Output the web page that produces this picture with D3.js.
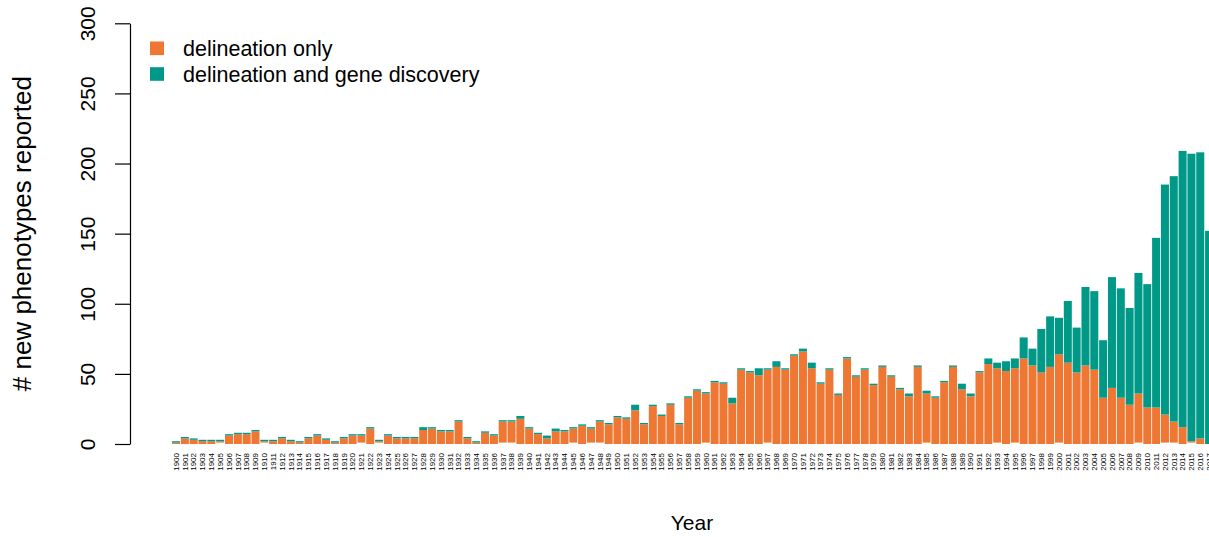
<!DOCTYPE html>
<html>
<head>
<meta charset="utf-8">
<script src="https://cdn.jsdelivr.net/npm/d3@7"></script>
<style>
  html, body { margin: 0; padding: 0; background: #ffffff; }
  svg { display: block; }
  text { font-family: "Liberation Sans", Arial, Helvetica, sans-serif; fill: #000; }
</style>
</head>
<body>
<svg id="chart" width="1209" height="537"></svg>
<script>
// Years on the x axis
const years = [
  1900, 1901, 1902, 1903, 1904, 1905, 1906, 1907, 1908, 1909,
  1910, 1911, 1912, 1913, 1914, 1915, 1916, 1917, 1918, 1919,
  1920, 1921, 1922, 1923, 1924, 1925, 1926, 1927, 1928, 1929,
  1930, 1931, 1932, 1933, 1934, 1935, 1936, 1937, 1938, 1939,
  1940, 1941, 1942, 1943, 1944, 1945, 1946, 1947, 1948, 1949,
  1950, 1951, 1952, 1953, 1954, 1955, 1956, 1957, 1958, 1959,
  1960, 1961, 1962, 1963, 1964, 1965, 1966, 1967, 1968, 1969,
  1970, 1971, 1972, 1973, 1974, 1975, 1976, 1977, 1978, 1979,
  1980, 1981, 1982, 1983, 1984, 1985, 1986, 1987, 1988, 1989,
  1990, 1991, 1992, 1993, 1994, 1995, 1996, 1997, 1998, 1999,
  2000, 2001, 2002, 2003, 2004, 2005, 2006, 2007, 2008, 2009,
  2010, 2011, 2012, 2013, 2014, 2015, 2016, 2017
];

// Phenotypes without an assigned category (drawn in white at the bar base)
const unassigned = [
  0, 0, 0, 0, 0, 1, 0, 0, 0, 0,
  1, 0, 0, 0, 0, 0, 0, 0, 0, 0,
  0, 1, 0, 1, 0, 0, 0, 0, 0, 0,
  0, 0, 0, 0, 0, 0, 0, 1, 1, 0,
  0, 0, 0, 0, 0, 1, 0, 1, 1, 0,
  0, 0, 0, 0, 0, 0, 0, 0, 0, 0,
  1, 0, 0, 0, 0, 0, 0, 1, 0, 0,
  0, 0, 0, 0, 0, 0, 0, 0, 0, 0,
  0, 0, 0, 0, 0, 1, 0, 0, 0, 0,
  0, 0, 0, 1, 0, 1, 0, 0, 0, 0,
  1, 0, 0, 0, 0, 0, 0, 0, 0, 1,
  0, 0, 1, 1, 0, 1, 0, 0
];

// delineation only
const delineationOnly = [
  1, 4, 3, 2, 2, 1, 6, 7, 7, 9,
  1, 2, 4, 2, 1, 4, 6, 3, 1, 4,
  6, 5, 11, 1, 6, 4, 4, 4, 10, 11,
  9, 9, 16, 4, 1, 8, 6, 15, 15, 18,
  11, 7, 4, 9, 9, 10, 13, 10, 15, 14,
  19, 18, 24, 14, 27, 20, 28, 14, 33, 38,
  35, 44, 43, 29, 53, 51, 49, 52, 55, 53,
  63, 66, 54, 43, 53, 35, 61, 48, 53, 42,
  55, 48, 39, 34, 55, 35, 33, 44, 55, 39,
  34, 51, 57, 53, 52, 53, 61, 56, 51, 55,
  63, 58, 51, 56, 53, 33, 40, 33, 28, 35,
  26, 26, 20, 15, 12, 1, 4, 0
];

// delineation and gene discovery
const withGeneDiscovery = [
  1, 1, 1, 1, 1, 1, 1, 1, 1, 1,
  1, 1, 1, 1, 1, 1, 1, 1, 1, 1,
  1, 1, 1, 1, 1, 1, 1, 1, 2, 1,
  1, 1, 1, 1, 1, 1, 1, 1, 1, 2,
  1, 1, 2, 2, 1, 1, 1, 1, 1, 1,
  1, 1, 4, 1, 1, 1, 1, 1, 1, 1,
  1, 1, 1, 4, 1, 1, 5, 1, 4, 1,
  1, 2, 4, 1, 1, 1, 1, 1, 1, 1,
  1, 1, 1, 2, 1, 2, 1, 1, 1, 4,
  2, 1, 4, 4, 7, 7, 15, 12, 31, 36,
  26, 44, 32, 56, 56, 41, 79, 78, 69, 86,
  88, 121, 164, 175, 197, 205, 204, 152
];

const yTicks = [0, 50, 100, 150, 200, 250, 300];
const seriesKeys = ["unassigned", "delineationOnly", "withGeneDiscovery"];
const seriesColors = ["#ffffff", "#EE7733", "#009988"];
const legendLabels = ["delineation only", "delineation and gene discovery"];
const legendColors = ["#EE7733", "#009988"];

const rows = years.map((y, i) => ({
  year: y,
  unassigned: unassigned[i],
  delineationOnly: delineationOnly[i],
  withGeneDiscovery: withGeneDiscovery[i]
}));

const svg = d3.select("#chart");
svg.append("rect").attr("width", 1209).attr("height", 537).attr("fill", "#ffffff");

const plotTop = 23.3, plotBottom = 444;
const axisX = 130;

const x = d3.scaleBand()
  .domain(years)
  .range([172, 1213.1])
  .paddingInner(0.0909)
  .paddingOuter(0);

const y = d3.scaleLinear().domain([0, 300]).range([plotBottom, plotTop]);

// Stacked bars
const stacked = d3.stack().keys(seriesKeys)(rows);
svg.append("g")
  .selectAll("g")
  .data(stacked)
  .join("g")
  .attr("fill", (d, i) => seriesColors[i])
  .selectAll("rect")
  .data(d => d)
  .join("rect")
  .attr("x", d => x(d.data.year))
  .attr("width", x.bandwidth())
  .attr("y", d => y(d[1]))
  .attr("height", d => y(d[0]) - y(d[1]));

// Y axis
const yAxis = d3.axisLeft(y).tickValues(yTicks).tickSize(15).tickSizeOuter(0).tickPadding(0);
const gy = svg.append("g").attr("transform", `translate(${axisX},0)`).call(yAxis);
gy.select(".domain").attr("stroke", "#000").attr("stroke-width", 1.2);
gy.selectAll(".tick line").attr("stroke", "#000").attr("stroke-width", 1.2);
gy.selectAll(".tick text")
  .attr("x", null).attr("dy", null)
  .attr("transform", "translate(-35,0) rotate(-90)")
  .attr("text-anchor", "middle")
  .attr("font-size", 21)
  .attr("font-family", "Liberation Sans, Arial, sans-serif")
  .attr("fill", "#000");

// Y axis title
svg.append("text")
  .attr("transform", `translate(31,${(plotTop + plotBottom) / 2}) rotate(-90)`)
  .attr("text-anchor", "middle")
  .attr("font-size", 26)
  .text("# new phenotypes reported");

// X axis labels (no axis line)
const xAxis = d3.axisBottom(x).tickSize(0).tickSizeOuter(0);
const gx = svg.append("g").attr("transform", `translate(0,${plotBottom})`).call(xAxis);
gx.select(".domain").remove();
gx.selectAll(".tick text")
  .attr("y", null).attr("dy", null)
  .attr("transform", "translate(2.8,9) rotate(-90)")
  .attr("text-anchor", "end")
  .attr("font-size", 8)
  .attr("font-family", "Liberation Sans, Arial, sans-serif")
  .attr("fill", "#222");

// X axis title
svg.append("text")
  .attr("x", 692)
  .attr("y", 530)
  .attr("text-anchor", "middle")
  .attr("font-size", 21)
  .text("Year");

// Legend
const legend = svg.append("g");
legendLabels.forEach((lab, i) => {
  const cy = 48.3 + i * 25.7;
  legend.append("rect")
    .attr("x", 150).attr("y", cy - 6.8)
    .attr("width", 14).attr("height", 13.6)
    .attr("fill", legendColors[i]);
  legend.append("text")
    .attr("x", 183).attr("y", cy + 7.6)
    .attr("font-size", 21.5)
    .text(lab);
});
</script>
</body>
</html>
